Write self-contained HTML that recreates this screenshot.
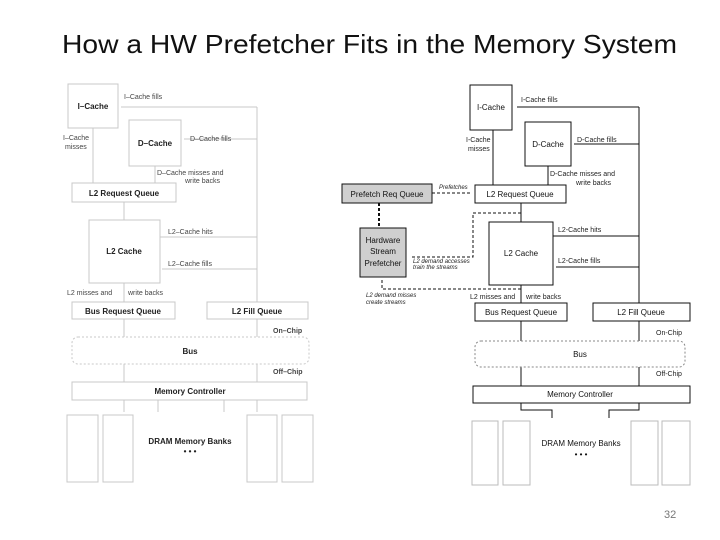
<!DOCTYPE html>
<html><head><meta charset="utf-8"><style>
html,body{margin:0;padding:0;background:#fff;width:720px;height:540px;overflow:hidden}
svg{display:block}
text{font-family:"Liberation Sans",sans-serif}
</style></head><body>
<svg width="720" height="540" viewBox="0 0 720 540" xmlns="http://www.w3.org/2000/svg">
<text x="62" y="53" font-size="26" textLength="615" lengthAdjust="spacingAndGlyphs" fill="#111">How a HW Prefetcher Fits in the Memory System</text>

<!-- LEFT -->
<g stroke="#c8c8c8" stroke-width="1" fill="none">
<rect x="68" y="84" width="50" height="44"/>
<rect x="129" y="120" width="52" height="46"/>
<rect x="72" y="183" width="104" height="19"/>
<rect x="89" y="220" width="71" height="63"/>
<rect x="72" y="302" width="103" height="17"/>
<rect x="207" y="302" width="101" height="17"/>
<rect x="72" y="337" width="237" height="27" rx="6" stroke-dasharray="2,2"/>
<rect x="72" y="382" width="235" height="18"/>
<rect x="67" y="415" width="31" height="67"/>
<rect x="103" y="415" width="30" height="67"/>
<rect x="247" y="415" width="30" height="67"/>
<rect x="282" y="415" width="31" height="67"/>
<path d="M257 107V302M257 107H121M257 139H184M160 237H257M257 269H162M93 128V183M155 166V183M124 202V220M124 283V302M124 319V337M257 319V337M124 364V382M257 364V382M124 400V412M158 400V412M224 400V412M257 400V412"/>
</g>
<g fill="#444" font-size="7">
<text x="124" y="99">I–Cache fills</text>
<text x="190" y="141">D–Cache fills</text>
<text x="63" y="140">I–Cache</text><text x="65" y="149">misses</text>
<text x="157" y="175">D–Cache misses and</text><text x="185" y="183">write backs</text>
<text x="168" y="234">L2–Cache hits</text>
<text x="168" y="266">L2–Cache fills</text>
<text x="67" y="295">L2 misses and</text><text x="128" y="295">write backs</text>
<text x="273" y="333" font-weight="bold">On–Chip</text>
<text x="273" y="374" font-weight="bold">Off–Chip</text>
</g>
<g fill="#222" font-size="8" font-weight="bold" text-anchor="middle">
<text x="93" y="109">I–Cache</text>
<text x="155" y="146">D–Cache</text>
<text x="124" y="196">L2 Request Queue</text>
<text x="124" y="254">L2 Cache</text>
<text x="123" y="314">Bus Request Queue</text>
<text x="257" y="314">L2 Fill Queue</text>
<text x="190" y="354">Bus</text>
<text x="190" y="394">Memory Controller</text>
<text x="190" y="444">DRAM Memory Banks</text>
<text x="190" y="454">• • •</text>
</g>

<!-- RIGHT -->
<g stroke="#111" stroke-width="1" fill="none">
<rect x="470" y="85" width="42" height="45"/>
<rect x="525" y="122" width="46" height="44"/>
<rect x="475" y="185" width="91" height="18"/>
<rect x="342" y="184" width="90" height="19" fill="#cfcfcf"/>
<rect x="360" y="228" width="46" height="49" fill="#cfcfcf"/>
<rect x="489" y="222" width="64" height="63"/>
<rect x="475" y="303" width="92" height="18"/>
<rect x="593" y="303" width="97" height="18"/>
<rect x="473" y="386" width="217" height="17"/>
<path d="M639 107V303M639 107H517M639 144H574M553 236H639M639 267H556M493 130V185M548 166V185M521 203V222M521 285V303M521 321V341M639 321V341M521 367V386M639 367V386M521 403V410H552V418M609 418V410H639V403" stroke-width="1"/>
</g>
<g stroke="#bbb" fill="none">
<rect x="472" y="421" width="26" height="64"/>
<rect x="503" y="421" width="27" height="64"/>
<rect x="631" y="421" width="27" height="64"/>
<rect x="662" y="421" width="28" height="64"/>
</g>
<rect x="475" y="341" width="210" height="26" rx="6" fill="none" stroke="#888" stroke-dasharray="2,2"/>
<g stroke="#111" fill="none" stroke-dasharray="3,2">
<path d="M432 193H472"/>
<path d="M379 203V228" stroke-width="2"/>
<path d="M521 213H473V257H410"/>
<path d="M521 289H382V280"/>
</g>
<g fill="#222" font-size="7">
<text x="521" y="102">I-Cache fills</text>
<text x="577" y="142">D-Cache fills</text>
<text x="466" y="142">I-Cache</text><text x="468" y="151">misses</text>
<text x="550" y="176">D-Cache misses and</text><text x="576" y="185">write backs</text>
<text x="558" y="232">L2-Cache hits</text>
<text x="558" y="263">L2-Cache fills</text>
<text x="470" y="299">L2 misses and</text><text x="526" y="299">write backs</text>
<text x="656" y="335">On-Chip</text>
<text x="656" y="376">Off-Chip</text>
<g font-style="italic" font-size="6"><text x="439" y="189">Prefetches</text>
<text x="413" y="263">L2 demand accesses</text><text x="413" y="269">train the streams</text>
<text x="366" y="297">L2 demand misses</text><text x="366" y="304">create streams</text></g>
</g>
<g fill="#111" font-size="8" text-anchor="middle">
<text x="491" y="110">I-Cache</text>
<text x="548" y="147">D-Cache</text>
<text x="520" y="197">L2 Request Queue</text>
<text x="387" y="197">Prefetch Req Queue</text>
<text x="383" y="243">Hardware</text><text x="383" y="254">Stream</text><text x="383" y="266">Prefetcher</text>
<text x="521" y="256">L2 Cache</text>
<text x="521" y="315">Bus Request Queue</text>
<text x="641" y="315">L2 Fill Queue</text>
<text x="580" y="357">Bus</text>
<text x="580" y="397">Memory Controller</text>
<text x="581" y="446">DRAM Memory Banks</text>
<text x="581" y="457">• • •</text>
</g>
<text x="664" y="518" font-size="11" fill="#777">32</text>
</svg>
</body></html>
